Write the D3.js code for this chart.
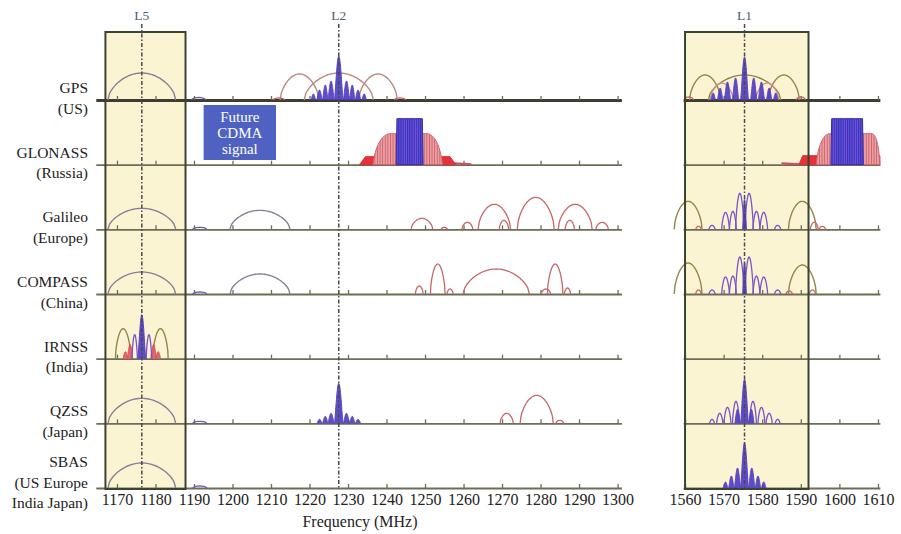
<!DOCTYPE html>
<html><head><meta charset="utf-8">
<script src="https://cdn.jsdelivr.net/npm/d3@7/dist/d3.min.js"></script>
<style>body{margin:0;background:#fff}svg{display:block}</style>
</head><body><svg id="c" width="901" height="534"></svg>
<script>
// ---------- DATA ----------
const systems = ["GPS","GLONASS","Galileo","COMPASS","IRNSS","QZSS","SBAS"];
const rowLabels = [["GPS","(US)"],["GLONASS","(Russia)"],["Galileo","(Europe)"],["COMPASS","(China)"],["IRNSS","(India)"],["QZSS","(Japan)"],["SBAS","(US Europe","India Japan)"]];
const lowTicks = [1170,1180,1190,1200,1210,1220,1230,1240,1250,1260,1270,1280,1290,1300];
const highTicks = [1560,1570,1580,1590,1600,1610];
const bandNames = ["L5","L2","L1"];
const bandFreqs = [1176.45,1227.6,1575.42];
const boxL5 = [1167,1187.8];
const boxL1 = [1560,1592];
const xAxisTitle = "Frequency (MHz)";
const cdmaText = ["Future","CDMA","signal"];
const cdmaFreqs = [1192.5,1211.3];

// lobes: [system, centre MHz, half-width MHz, level, kind]
const gpsLobes = [
 ["GPS",1176.45,8.8,27,"mauve"],["GPS",1191.2,1.8,2.5,"bump"],
 ["GPS",1217.4,5,26,"brown"],["GPS",1227.6,9,27,"brown"],["GPS",1237.8,5,26,"brown"],
 ["GPS",1212,1.5,2,"red"],["GPS",1243.5,1.5,2,"red"],
 ["GPS",1221,0.6,6,"blue"],["GPS",1222.6,0.7,10,"blue"],["GPS",1224.1,0.7,15,"blue"],["GPS",1225.6,0.8,19,"blue"],
 ["GPS",1229.6,0.8,19,"blue"],["GPS",1231.1,0.7,15,"blue"],["GPS",1232.6,0.7,10,"blue"],["GPS",1234.2,0.6,6,"blue"],
 ["GPS",1227.6,1.1,44,"blue"],
 ["GPS",1565.2,4,25,"olive"],["GPS",1585.6,4,25,"olive"],["GPS",1575.42,9.4,25,"olive"],
 ["GPS",1569.5,3,17,"pink"],["GPS",1581.3,3,17,"pink"],
 ["GPS",1561,1.2,3,"red"],["GPS",1590,1.2,3,"red"],
 ["GPS",1567.3,0.6,7,"blue"],["GPS",1569.1,0.7,12,"blue"],["GPS",1571,0.8,18,"blue"],["GPS",1573.1,0.8,22,"blue"],
 ["GPS",1577.8,0.8,22,"blue"],["GPS",1579.8,0.8,18,"blue"],["GPS",1581.8,0.7,12,"blue"],["GPS",1583.5,0.6,7,"blue"],
 ["GPS",1575.42,1,43,"blue"]
];
// GLONASS FDMA stacks: [system, bottomLo, bottomHi, topLo, topHi, level, kind]
const glonassStacks = [
 ["GLONASS",1233,1258,1234.5,1256.5,8,"redfill"],
 ["GLONASS",1236.5,1254.5,1241,1250.5,31,"pinkfill"],
 ["GLONASS",1242.5,1249.5,1242.7,1249.3,46,"comb"],
 ["GLONASS",1589.5,1610.5,1590.5,1610.5,9,"redfill"],
 ["GLONASS",1594,1610.5,1597.5,1608.5,31,"pinkfill"],
 ["GLONASS",1597.8,1606.2,1598,1606,46,"comb"]
];
const glonassTails = [["GLONASS",1257.5,1262,1.5],["GLONASS",1585,1590,1.5]];
const galileoLobes = [
 ["Galileo",1176.45,8.8,21,"mauve"],["Galileo",1191.5,1.8,2,"bump"],["Galileo",1207.14,7.8,19,"mauve"],
 ["Galileo",1249.2,2.8,11,"red"],["Galileo",1255,0.8,2,"red"],["Galileo",1261,1.4,7,"red"],
 ["Galileo",1268,4.2,25,"red"],["Galileo",1270.5,1.2,9,"red"],["Galileo",1278.75,4.8,32,"red"],
 ["Galileo",1287.6,1.2,9,"red"],["Galileo",1289,4.4,25,"red"],["Galileo",1296,1.6,7,"red"],
 ["Galileo",1560.8,3.6,28,"olive"],["Galileo",1590.4,3.6,28,"olive"],
 ["Galileo",1563.5,0.7,3,"red"],["Galileo",1567,0.8,4,"purple"],["Galileo",1584,0.8,4,"purple"],
 ["Galileo",1570.5,1,17,"purple"],["Galileo",1572.4,0.9,18,"purple"],["Galileo",1578.5,0.9,18,"purple"],["Galileo",1580.4,1,17,"purple"],
 ["Galileo",1574.2,1.1,36,"purple"],["Galileo",1576.6,1.1,36,"purple"],["Galileo",1575.42,0.5,30,"blue"],
 ["Galileo",1593.5,1,7,"red"],["Galileo",1595.6,0.8,3,"red"]
];
const compassLobes = [
 ["COMPASS",1176.45,8.8,22,"mauve"],["COMPASS",1191.5,1.8,2,"bump"],["COMPASS",1207.14,7.8,20,"mauve"],
 ["COMPASS",1248.5,1,8,"red"],["COMPASS",1253.3,1.9,30,"red"],["COMPASS",1256.5,0.8,5,"red"],
 ["COMPASS",1268.5,8.6,25,"red"],["COMPASS",1281.4,1.2,5,"red"],["COMPASS",1283.8,2,30,"red"],["COMPASS",1287,0.8,6,"red"],
 ["COMPASS",1560.8,3.6,31,"olive"],["COMPASS",1590.4,3.6,29,"olive"],
 ["COMPASS",1563.5,0.7,4,"red"],["COMPASS",1567,0.8,4,"purple"],["COMPASS",1584,0.8,4,"purple"],
 ["COMPASS",1570.5,1,17,"purple"],["COMPASS",1572.4,0.9,18,"purple"],["COMPASS",1578.5,0.9,18,"purple"],["COMPASS",1580.4,1,17,"purple"],
 ["COMPASS",1574.2,1.1,37,"purple"],["COMPASS",1576.6,1.1,37,"purple"],["COMPASS",1575.42,0.5,31,"blue"],
 ["COMPASS",1587,0.8,3,"red"],["COMPASS",1593,0.8,4,"red"]
];
const irnssLobes = [
 ["IRNSS",1171.6,2,30,"olive"],["IRNSS",1181.3,2,30,"olive"],
 ["IRNSS",1172.2,0.6,7,"redfill"],["IRNSS",1173.4,0.7,14,"redfill"],["IRNSS",1179.5,0.7,14,"redfill"],["IRNSS",1180.7,0.6,7,"redfill"],
 ["IRNSS",1174.6,0.7,24,"purple"],["IRNSS",1178.3,0.7,24,"purple"],
 ["IRNSS",1176.45,1,44,"blue"]
];
const qzssLobes = [
 ["QZSS",1176.45,8.8,25,"mauve"],["QZSS",1191.5,1.8,2,"bump"],
 ["QZSS",1222.6,0.7,4,"blue"],["QZSS",1224.1,0.7,7,"blue"],["QZSS",1225.6,0.8,10,"blue"],
 ["QZSS",1229.6,0.8,10,"blue"],["QZSS",1231.1,0.7,7,"blue"],["QZSS",1232.6,0.7,4,"blue"],
 ["QZSS",1227.6,1.1,40,"blue"],
 ["QZSS",1271.2,1.7,10,"red"],["QZSS",1279,4.3,28,"red"],["QZSS",1285,1,3,"red"],
 ["QZSS",1567,0.6,4,"purple"],["QZSS",1569,0.8,10,"purple"],["QZSS",1571,0.9,16,"purple"],["QZSS",1573.2,0.9,22,"purple"],
 ["QZSS",1577.6,0.9,22,"purple"],["QZSS",1579.8,0.9,16,"purple"],["QZSS",1581.8,0.8,10,"purple"],["QZSS",1584,0.6,4,"purple"],
 ["QZSS",1573.6,0.7,14,"blue"],["QZSS",1577.2,0.7,14,"blue"],["QZSS",1575.42,1,44,"blue"]
];
const sbasLobes = [
 ["SBAS",1176.45,8.8,25,"mauve"],["SBAS",1191.5,1.8,2,"bump"],
 ["SBAS",1570.5,0.6,6,"blue"],["SBAS",1572,0.7,12,"blue"],["SBAS",1573.6,0.8,20,"blue"],
 ["SBAS",1577.3,0.8,20,"blue"],["SBAS",1578.9,0.7,12,"blue"],["SBAS",1580.4,0.6,6,"blue"],
 ["SBAS",1575.42,1,45,"blue"]
];

// ---------- DRAW ----------
const svg = d3.select("#c");
const xLow = d3.scaleLinear().domain([1164.5,1301]).range([95.8,621.4]);
const xHigh = d3.scaleLinear().domain([1559.5,1610.5]).range([683.1,879.9]);
const xOf = f => f < 1400 ? xLow(f) : xHigh(f);
const yRow = d3.scalePoint().domain(systems).range([100,488]);
const lvl = d3.scaleLinear().domain([0,50]).range([0,50]);
const serif = "'Liberation Serif','DejaVu Serif',serif";
const boxTop = 32, boxBottom = 489;

const styles = {
  mauve:{stroke:"#8b7f98",fill:"none",w:1.4,p:0.55},
  brown:{stroke:"#bb8a82",fill:"none",w:1.4,p:0.55},
  olive:{stroke:"#958649",fill:"none",w:1.4,p:0.55},
  pink:{stroke:"#d48a8f",fill:"none",w:1.3,p:0.6},
  red:{stroke:"#c5686a",fill:"none",w:1.3,p:0.55},
  purple:{stroke:"#7a55c8",fill:"none",w:1.3,p:0.7},
  blue:{stroke:"#5a40c8",fill:"#4a3cc0",w:1,p:1.2},
  redfill:{stroke:"#e04a55",fill:"#e25a64",w:1,p:1},
  bump:{stroke:"#6a5fa8",fill:"none",w:1.3,p:0.5}
};

const bgFill = "#fbf4d3";
[[boxL5,xLow],[boxL1,xHigh]].forEach(([b,sc])=>{
  svg.append("rect").attr("x",sc(b[0])).attr("y",boxTop).attr("width",sc(b[1])-sc(b[0])).attr("height",boxBottom-boxTop).attr("fill",bgFill);
});
const defs = svg.append("defs");
const pat = defs.append("pattern").attr("id","comb").attr("width",2.2).attr("height",4).attr("patternUnits","userSpaceOnUse");
pat.append("rect").attr("width",2.2).attr("height",4).attr("fill","#7a50d8");
pat.append("rect").attr("width",1.2).attr("height",4).attr("fill","#3236bc");
const pat2 = defs.append("pattern").attr("id","pinkp").attr("width",2.6).attr("height",3).attr("patternUnits","userSpaceOnUse");
pat2.append("rect").attr("width",2.6).attr("height",3).attr("fill","#eaa0a0");
pat2.append("rect").attr("width",0.9).attr("height",3).attr("fill","#d06070");

const axisColor = "#6c6c57";
systems.forEach((s,i)=>{
  const y = yRow(s);
  const thick = i===0;
  [[xLow,lowTicks],[xHigh,highTicks]].forEach(([sc,tv])=>{
    const g = svg.append("g").attr("transform",`translate(0,${y})`)
      .call(d3.axisTop(sc).tickValues(tv).tickSize(4).tickSizeOuter(0).tickFormat(""));
    g.select(".domain").attr("stroke",thick?"#3d3d30":axisColor).attr("stroke-width",thick?3:1.8);
    g.selectAll(".tick line").attr("stroke",axisColor).attr("stroke-width",1.3);
  });
});

function lobePath(c,hw,h,base,p){
  const n=40, pts=[];
  for(let k=0;k<=n;k++){
    const t=-1+2*k/n;
    const v=Math.pow(Math.max(0,Math.cos(Math.PI*t/2)),p);
    pts.push([xOf(c+t*hw), base - lvl(h)*v]);
  }
  return d3.line()(pts);
}
const allLobes = [...gpsLobes,...galileoLobes,...compassLobes,...irnssLobes,...qzssLobes,...sbasLobes];
const order = ["mauve","brown","olive","pink","red","redfill","purple","bump","blue"];
const lg = svg.append("g");
order.forEach(kind=>{
  allLobes.filter(d=>d[4]===kind).forEach(d=>{
    const st = styles[kind];
    lg.append("path").attr("d",lobePath(d[1],d[2],d[3],yRow(d[0]),st.p))
      .attr("fill",st.fill).attr("stroke",st.stroke).attr("stroke-width",st.w)
      .attr("fill-opacity",st.fill==="none"?null:0.9);
  });
});

// GLONASS stacks
glonassTails.forEach(d=>{
  const b=yRow(d[0]);
  lg.append("path").attr("d",d3.line()([[xOf(d[1]),b-lvl(d[3])],[xOf(d[2]),b-0.5]]))
    .attr("stroke","#d24a60").attr("stroke-width",2).attr("fill","none");
});
glonassStacks.forEach(d=>{
  const b=yRow(d[0]);
  const x0=xOf(d[1]), x1=xOf(d[2]), t0=xOf(d[3]), t1=xOf(d[4]), h=lvl(d[5]);
  let path;
  if(d[6]==="pinkfill"){
    const p=d3.path();
    p.moveTo(x0,b);
    p.bezierCurveTo(x0+(t0-x0)*0.15,b-h*0.75,t0-(t0-x0)*0.35,b-h,t0,b-h);
    p.lineTo(t1,b-h);
    p.bezierCurveTo(t1+(x1-t1)*0.35,b-h,x1-(x1-t1)*0.15,b-h*0.75,x1,b);
    p.closePath();
    path=p.toString();
  } else {
    path=d3.line()([[x0,b],[t0,b-h],[t1,b-h],[x1,b]])+"Z";
  }
  const fill = d[6]==="comb"?"url(#comb)":d[6]==="pinkfill"?"url(#pinkp)":"#e8303a";
  lg.append("path").attr("d",path).attr("fill",fill)
    .attr("stroke",d[6]==="comb"?"#3030b0":d[6]==="pinkfill"?"#c86a70":"#e03038")
    .attr("stroke-width",1);
});

[[boxL5,xLow],[boxL1,xHigh]].forEach(([b,sc])=>{
  svg.append("rect").attr("x",sc(b[0])).attr("y",boxTop).attr("width",sc(b[1])-sc(b[0])).attr("height",boxBottom-boxTop)
    .attr("fill","none").attr("stroke","#3a4530").attr("stroke-width",2);
});

bandFreqs.forEach((f,i)=>{
  const x = xOf(f);
  svg.append("line").attr("x1",x).attr("x2",x).attr("y1",24).attr("y2",boxBottom)
    .attr("stroke","#4a4a4a").attr("stroke-width",1.5).attr("stroke-dasharray","4,2,1.5,2");
  svg.append("text").attr("x",x).attr("y",20).attr("text-anchor","middle")
    .attr("font-family",serif).attr("font-size",13.5).attr("fill","#4a6070").text(bandNames[i]);
});

const cx0=xLow(cdmaFreqs[0]), cx1=xLow(cdmaFreqs[1]);
svg.append("rect").attr("x",cx0).attr("y",105).attr("width",cx1-cx0).attr("height",55).attr("fill","#4f62c2");
cdmaText.forEach((t,i)=>{
  svg.append("text").attr("x",(cx0+cx1)/2).attr("y",122+i*16).attr("text-anchor","middle")
    .attr("font-family",serif).attr("font-size",15).attr("fill","#fff").text(t);
});

systems.forEach((s,i)=>{
  const y=yRow(s);
  const n=rowLabels[i].length;
  const start = y - 7 - (n-2)*14;
  rowLabels[i].forEach((t,j)=>{
    svg.append("text").attr("x",88).attr("y",start+j*20.5).attr("text-anchor","end")
      .attr("font-family",serif).attr("font-size",15.5).attr("fill","#222").text(t);
  });
});

[[xLow,lowTicks],[xHigh,highTicks]].forEach(([sc,tv])=>{
  const g = svg.append("g").attr("transform",`translate(0,${yRow("SBAS")})`)
    .call(d3.axisBottom(sc).tickValues(tv).tickSize(0).tickPadding(6).tickFormat(d3.format("d")));
  g.select(".domain").remove();
  g.selectAll("text").attr("font-family",serif).attr("font-size",16).attr("fill","#222");
});
svg.append("text").attr("x",360).attr("y",527).attr("text-anchor","middle")
  .attr("font-family",serif).attr("font-size",16).attr("fill","#222").text(xAxisTitle);
</script></body></html>
